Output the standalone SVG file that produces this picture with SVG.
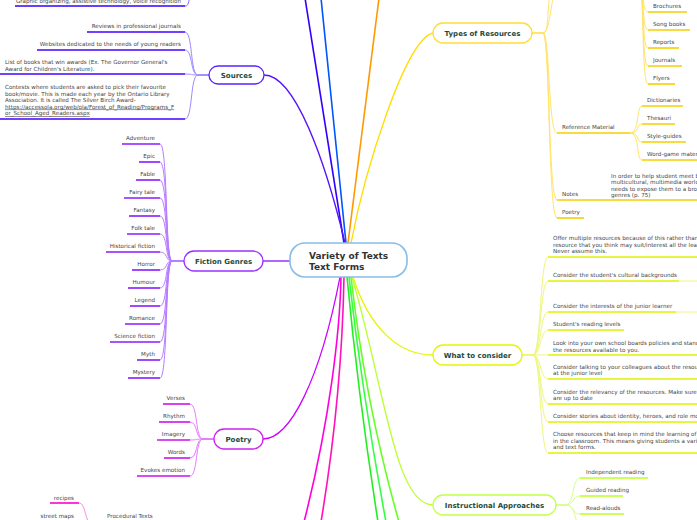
<svg xmlns="http://www.w3.org/2000/svg" width="697" height="520" viewBox="0 0 697 520">
<style>
.t{font-family:"DejaVu Sans",Verdana,sans-serif;font-size:5.6px;fill:#444}
.e{text-anchor:end}
.h{font-family:"DejaVu Sans",Verdana,sans-serif;font-size:7px;font-weight:bold;fill:#1d4a3b;text-anchor:middle}
.c{font-family:"DejaVu Sans",Verdana,sans-serif;font-size:9px;font-weight:bold;fill:#333}
.n{fill:#fff;stroke-width:1.3}
path{fill:none}
.u{stroke-width:1.6}
.k{stroke-width:1}
</style>
<g id="connectors">
  <!-- main branches -->
  <path d="M344,243 L305,-2" stroke="#3300ff" stroke-width="1.6"/>
  <path d="M346,243 L321,-2" stroke="#0055ff" stroke-width="1.6"/>
  <path d="M348,243 L379,-2" stroke="#ff9900" stroke-width="1.6"/>
  <path d="M351,243 C365,170 405,40 433,33" stroke="#ffdd00" stroke-width="1.3"/>
  <path d="M345,243 C325,160 295,75 264,75" stroke="#5511ff" stroke-width="1.3"/>
  <path d="M263,261 H290" stroke="#9933ff" stroke-width="1.5"/>
  <path d="M340,277 C320,380 290,439 263,439" stroke="#cc00ff" stroke-width="1.3"/>
  <path d="M341,277 C340,330 330,420 304,522" stroke="#ff00dd" stroke-width="1.6"/>
  <path d="M344,277 C343,330 338,420 321,522" stroke="#ff11bb" stroke-width="1.6"/>
  <path d="M347,277 C352,330 362,420 378,522" stroke="#22ee22" stroke-width="1.6"/>
  <path d="M349,277 C355,330 367,420 386,522" stroke="#33ff44" stroke-width="1.6"/>
  <path d="M351,277 C357,330 370,420 399,522" stroke="#66ff22" stroke-width="1.6"/>
  <path d="M353,277 C370,330 400,355 433,355" stroke="#e6f500" stroke-width="1.3"/>
  <path d="M352,277 C385,390 395,505 433,505" stroke="#bbff33" stroke-width="1.3"/>
  <!-- top-left branch -->
  <path d="M15,6 H185" stroke="#3300ff" class="u"/>
  <path d="M185,6 C189,6 188,2 191,-6" stroke="#8866ff" class="k"/>
  <!-- Sources children -->
  <g stroke="#9f88ff" class="k">
    <path d="M209,75 H198 C190,75 193,32 185,32"/>
    <path d="M209,75 H198 C190,75 193,50 185,50"/>
    <path d="M209,75 H198 C190,75 193,74 185,74"/>
    <path d="M209,75 H198 C190,75 193,119 185,119"/>
  </g>
  <g stroke="#4400ff" class="u">
    <path d="M87,32 H185"/><path d="M37,50 H185"/><path d="M0,74 H185"/><path d="M0,119 H185"/>
  </g>
  <!-- Fiction children -->
  <g stroke="#b77cff" class="k">
    <path d="M184,261 H172 C165,261 168,144 160,144"/>
    <path d="M184,261 H172 C165,261 168,162 160,162"/>
    <path d="M184,261 H172 C165,261 168,180 160,180"/>
    <path d="M184,261 H172 C165,261 168,198 160,198"/>
    <path d="M184,261 H172 C165,261 168,216 160,216"/>
    <path d="M184,261 H172 C165,261 168,234 160,234"/>
    <path d="M184,261 H172 C165,261 168,252 160,252"/>
    <path d="M184,261 H172 C165,261 168,270 160,270"/>
    <path d="M184,261 H172 C165,261 168,288 160,288"/>
    <path d="M184,261 H172 C165,261 168,306 160,306"/>
    <path d="M184,261 H172 C165,261 168,324 160,324"/>
    <path d="M184,261 H172 C165,261 168,342 160,342"/>
    <path d="M184,261 H172 C165,261 168,360 160,360"/>
    <path d="M184,261 H172 C165,261 168,378 160,378"/>
  </g>
  <g stroke="#8a1aff" class="u">
    <path d="M122,144 H160"/><path d="M139,162 H160"/><path d="M136,180 H160"/><path d="M124,198 H160"/>
    <path d="M129,216 H160"/><path d="M127,234 H160"/><path d="M106,252 H160"/><path d="M132,270 H160"/>
    <path d="M128,288 H160"/><path d="M130,306 H160"/><path d="M125,324 H160"/><path d="M110,342 H160"/>
    <path d="M137,360 H160"/><path d="M128,378 H160"/>
  </g>
  <!-- Poetry children -->
  <g stroke="#e37cff" class="k">
    <path d="M214,439 H203 C195,439 198,404 190,404"/>
    <path d="M214,439 H203 C195,439 198,422 190,422"/>
    <path d="M214,439 H203 C195,439 198,440 190,440"/>
    <path d="M214,439 H203 C195,439 198,458 190,458"/>
    <path d="M214,439 H203 C195,439 198,476 190,476"/>
  </g>
  <g stroke="#cc11ee" class="u">
    <path d="M163,404 H190"/><path d="M159,422 H190"/><path d="M157,440 H190"/><path d="M164,458 H190"/><path d="M137,476 H190"/>
  </g>
  <!-- procedural texts -->
  <path d="M50,503 H79" stroke="#ff00cc" class="u"/>
  <path d="M79,503 C85,503 84,515 90,525" stroke="#ff88ee" class="k"/>
  <!-- Types children -->
  <g stroke="#ffe46a" class="k">
    <path d="M532,33 H543 C549,33 547,10 550,-6"/>
    <path d="M532,33 H543 C549,33 550,10 554,-6"/>
    <path d="M532,33 H543 C550,33 548,133 557,133"/>
    <path d="M532,33 H543 C550,33 548,200 557,200"/>
    <path d="M532,33 H543 C550,33 548,218 557,218"/>
    <path d="M630,133 C640,133 636,106 642,106"/>
    <path d="M630,133 C640,133 636,124 642,124"/>
    <path d="M630,133 C640,133 636,142 642,142"/>
    <path d="M630,133 C640,133 636,160 642,160"/>
    <path d="M638,-20 C645,-20 641,12 648,12"/>
    <path d="M638,-20 C645,-20 641,30 648,30"/>
    <path d="M638,-20 C645,-20 641,48 648,48"/>
    <path d="M638,-20 C645,-20 641,66 648,66"/>
    <path d="M638,-20 C645,-20 641,84 648,84"/>
  </g>
  <g stroke="#f5d000" class="u">
    <path d="M648,12 H687"/><path d="M648,30 H690"/><path d="M648,48 H679"/><path d="M648,66 H682"/><path d="M648,84 H675"/>
    <path d="M557,133 H630"/>
    <path d="M642,106 H683"/><path d="M642,124 H675"/><path d="M642,142 H686"/><path d="M642,160 H697"/>
    <path d="M557,200 H697"/>
    <path d="M557,218 H584"/>
  </g>
  <!-- What to consider children -->
  <g stroke="#eef77a" class="k">
    <path d="M522,355 H533 C541,355 540,257 548,257"/>
    <path d="M522,355 H533 C541,355 540,281 548,281"/>
    <path d="M522,355 H533 C541,355 540,312 548,312"/>
    <path d="M522,355 H533 C541,355 540,330 548,330"/>
    <path d="M522,355 H548"/>
    <path d="M522,355 H533 C541,355 540,379 548,379"/>
    <path d="M522,355 H533 C541,355 540,404 548,404"/>
    <path d="M522,355 H533 C541,355 540,422 548,422"/>
    <path d="M522,355 H533 C541,355 540,453 548,453"/>
    <path d="M679,281 H697"/><path d="M676,312 H697"/>
  </g>
  <g stroke="#e0f000" class="u">
    <path d="M548,257 H697"/><path d="M548,281 H679"/><path d="M548,312 H676"/><path d="M548,330 H624"/>
    <path d="M548,355 H697"/><path d="M548,379 H697"/><path d="M548,404 H697"/><path d="M548,422 H697"/><path d="M548,453 H697"/>
  </g>
  <!-- Instructional children -->
  <g stroke="#d6ff88" class="k">
    <path d="M556,505 H566 C574,505 572,478 580,478"/>
    <path d="M556,505 H566 C574,505 572,496 580,496"/>
    <path d="M556,505 H566 C574,505 572,514 580,514"/>
    <path d="M556,505 H566 C574,505 574,515 578,525"/>
  </g>
  <g stroke="#bbff22" class="u">
    <path d="M580,478 H648"/><path d="M580,496 H623"/><path d="M580,514 H624"/>
  </g>
</g>

<g id="center">
  <rect x="290" y="243" width="117" height="34" rx="15" fill="#fff" stroke="#88bde6" stroke-width="1.6"/>
  <text class="c" x="309" y="259">Variety of Texts</text>
  <text class="c" x="309" y="270">Text Forms</text>
</g>

<g id="graphic-organizing">
  <text class="t e" x="181" y="3">Graphic organizing, assistive technology, voice recognition</text>
</g>

<g id="sources">
  <rect class="n" x="209" y="66" width="55" height="18" rx="9" stroke="#5a22ff"/>
  <text class="h" x="236.5" y="77.5">Sources</text>
  <text class="t e" x="181" y="28">Reviews in professional journals</text>
  <text class="t e" x="181" y="46">Websites dedicated to the needs of young readers</text>
  <text class="t" x="5" y="64">List of books that win awards (Ex. The Governor General's</text>
  <text class="t" x="5" y="71">Award for Children's Literature).</text>
  <text class="t" x="5" y="89">Contests where students are asked to pick their favourite</text>
  <text class="t" x="5" y="95.5">book/movie. This is made each year by the Ontario Library</text>
  <text class="t" x="5" y="102">Association. It is called The Silver Birch Award-</text>
  <text class="t" x="5" y="108.5" text-decoration="underline">https://accessola.org/web/ola/Forest_of_Reading/Programs_F</text>
  <text class="t" x="5" y="115" text-decoration="underline">or_School_Aged_Readers.aspx</text>
</g>

<g id="fiction-genres">
  <rect class="n" x="184" y="251" width="79" height="20" rx="10" stroke="#9b30ff"/>
  <text class="h" x="223.5" y="263.5">Fiction Genres</text>
  <text class="t e" x="155" y="140">Adventure</text>
  <text class="t e" x="155" y="158">Epic</text>
  <text class="t e" x="155" y="176">Fable</text>
  <text class="t e" x="155" y="194">Fairy tale</text>
  <text class="t e" x="155" y="212">Fantasy</text>
  <text class="t e" x="155" y="230">Folk tale</text>
  <text class="t e" x="155" y="248">Historical fiction</text>
  <text class="t e" x="155" y="266">Horror</text>
  <text class="t e" x="155" y="284">Humour</text>
  <text class="t e" x="155" y="302">Legend</text>
  <text class="t e" x="155" y="320">Romance</text>
  <text class="t e" x="155" y="338">Science fiction</text>
  <text class="t e" x="155" y="356">Myth</text>
  <text class="t e" x="155" y="374">Mystery</text>
</g>

<g id="poetry">
  <rect class="n" x="214" y="429" width="49" height="20" rx="10" stroke="#cc22ee"/>
  <text class="h" x="238.5" y="441.5">Poetry</text>
  <text class="t e" x="185" y="400">Verses</text>
  <text class="t e" x="185" y="418">Rhythm</text>
  <text class="t e" x="185" y="436">Imagery</text>
  <text class="t e" x="185" y="454">Words</text>
  <text class="t e" x="185" y="472">Evokes emotion</text>
</g>

<g id="procedural-texts">
  <text class="t" x="107" y="518">Procedural Texts</text>
  <text class="t e" x="74" y="499.5">recipes</text>
  <text class="t e" x="74" y="518">street maps</text>
</g>

<g id="types-of-resources">
  <rect class="n" x="433" y="23" width="99" height="20" rx="10" stroke="#ffdd33"/>
  <text class="h" x="482.5" y="35.5">Types of Resources</text>
  <text class="t" x="653" y="8">Brochures</text>
  <text class="t" x="653" y="26">Song books</text>
  <text class="t" x="653" y="44">Reports</text>
  <text class="t" x="653" y="62">Journals</text>
  <text class="t" x="653" y="80">Flyers</text>
  <text class="t" x="562" y="129">Reference Material</text>
  <text class="t" x="647" y="102">Dictionaries</text>
  <text class="t" x="647" y="120">Thesauri</text>
  <text class="t" x="647" y="138">Style-guides</text>
  <text class="t" x="647" y="156">Word-game materials</text>
  <text class="t" x="562" y="196">Notes</text>
  <text class="t" x="611" y="178">In order to help student meet b</text>
  <text class="t" x="611" y="184">multicultural, multimedia world</text>
  <text class="t" x="611" y="190.5">needs to expose them to a broa</text>
  <text class="t" x="611" y="196.5">genres (p. 75)</text>
  <text class="t" x="562" y="214">Poetry</text>
</g>

<g id="what-to-consider">
  <rect class="n" x="433" y="345" width="89" height="20" rx="10" stroke="#e6f500"/>
  <text class="h" x="477.5" y="357.5">What to consider</text>
  <text class="t" x="553" y="240">Offer multiple resources because of this rather than</text>
  <text class="t" x="553" y="246.5">resource that you think may suit/interest all the lea</text>
  <text class="t" x="553" y="253">Never assume this.</text>
  <text class="t" x="553" y="277">Consider the student's cultural backgrounds</text>
  <text class="t" x="553" y="308">Consider the interests of the junior learner</text>
  <text class="t" x="553" y="326">Student's reading levels</text>
  <text class="t" x="553" y="345">Look into your own school boards policies and stand</text>
  <text class="t" x="553" y="351.5">the resources available to you.</text>
  <text class="t" x="553" y="368.5">Consider talking to your colleagues about the resou</text>
  <text class="t" x="553" y="375">at the junior level</text>
  <text class="t" x="553" y="393.5">Consider the relevancy of the resources. Make sure</text>
  <text class="t" x="553" y="400">are up to date</text>
  <text class="t" x="553" y="418">Consider stories about identity, heroes, and role mo</text>
  <text class="t" x="553" y="436">Choose resources that keep in mind the learning of</text>
  <text class="t" x="553" y="442.5">in the classroom. This means giving students a vari</text>
  <text class="t" x="553" y="449">and text forms.</text>
</g>

<g id="instructional-approaches">
  <rect class="n" x="433" y="495" width="123" height="20" rx="10" stroke="#c4ff44"/>
  <text class="h" x="494.5" y="507.5">Instructional Approaches</text>
  <text class="t" x="586" y="474">Independent reading</text>
  <text class="t" x="586" y="492">Guided reading</text>
  <text class="t" x="586" y="510">Read-alouds</text>
</g>
</svg>
